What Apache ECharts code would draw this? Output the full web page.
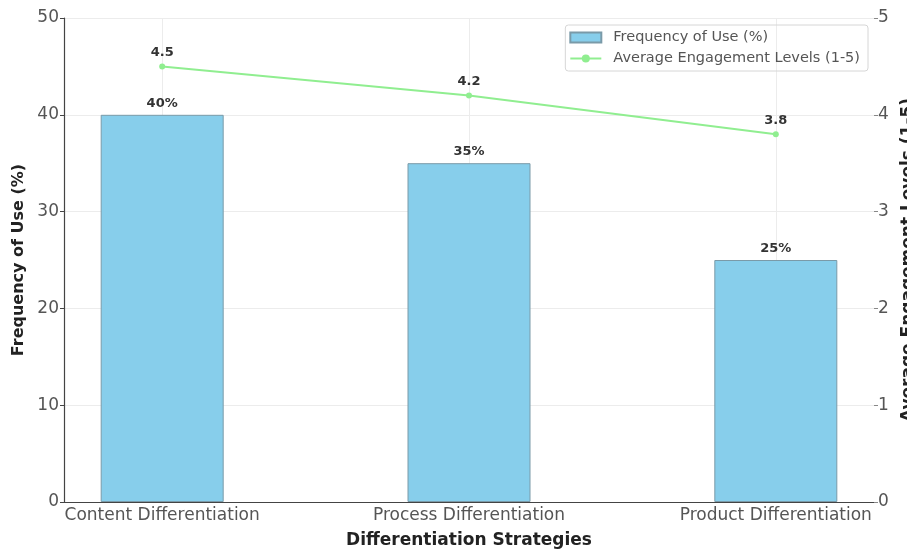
<!DOCTYPE html>
<html><head><meta charset="utf-8">
<script src="https://cdn.jsdelivr.net/npm/echarts@6/dist/echarts.min.js"></script>
<style>html,body{margin:0;padding:0;background:#fff}#c{width:907px;height:549px}</style>
</head><body><div id="c"></div>
<script>
const categories = ['Content Differentiation', 'Process Differentiation', 'Product Differentiation'];
const frequencyOfUse = [40, 35, 25];
const engagementLevels = [4.5, 4.2, 3.8];
const leftTicks = [0, 10, 20, 30, 40, 50];
const rightTicks = [0, 1, 2, 3, 4, 5];

const idx = categories.map((_, i) => i);
const font = 'DejaVu Sans';
const chart = echarts.init(document.getElementById('c'));
chart.setOption({
  animation: false,
  textStyle: { fontFamily: font },
  grid: { left: 64, right: 33, top: 18, bottom: 47, containLabel: false, outerBoundsMode: 'none' },
  legend: {
    orient: 'vertical', right: 39, top: 25,
    itemWidth: 31, itemHeight: 10, itemGap: 6,
    padding: [5, 8, 5, 4],
    borderColor: '#d6d6d6', borderWidth: 1, borderRadius: 3,
    textStyle: { fontFamily: font, fontSize: 14.5, color: '#555', padding: [0, 0, 0, 7] },
    data: [
      { name: 'Frequency of Use (%)', icon: 'rect' },
      { name: 'Average Engagement Levels (1-5)' }
    ]
  },
  xAxis: {
    type: 'value', min: -0.32, max: 2.32,
    name: 'Differentiation Strategies', nameLocation: 'middle', nameGap: 30,
    nameTextStyle: { fontFamily: font, fontSize: 17, fontWeight: 'bold', color: '#222' },
    axisLine: { show: true, onZero: false, lineStyle: { color: '#444', width: 1.2 } },
    axisTick: { show: true, customValues: idx, length: 4, inside: true, lineStyle: { color: '#444' } },
    axisLabel: { customValues: idx, formatter: v => categories[Math.round(v)], fontSize: 17, color: '#555', margin: 5 },
    splitLine: { show: true, lineStyle: { color: '#ececec', width: 1 } }
  },
  yAxis: [
    {
      type: 'value', min: leftTicks[0], max: leftTicks[leftTicks.length - 1], interval: 10,
      name: 'Frequency of Use (%)', nameLocation: 'middle', nameGap: 32, nameRotate: 90,
      nameTextStyle: { fontFamily: font, fontSize: 16, fontWeight: 'bold', color: '#222' },
      axisLine: { show: true, onZero: false, lineStyle: { color: '#444', width: 1.2 } },
      axisTick: { show: true, length: 4, lineStyle: { color: '#444' } },
      axisLabel: { fontSize: 17, color: '#555', margin: 5 },
      splitLine: { show: true, lineStyle: { color: '#ececec', width: 1 } }
    },
    {
      type: 'value', min: rightTicks[0], max: rightTicks[rightTicks.length - 1], interval: 1,
      position: 'right',
      name: 'Average Engagement Levels (1-5)', nameLocation: 'middle', nameGap: 20, nameRotate: 90,
      nameTextStyle: { fontFamily: font, fontSize: 17, fontWeight: 'bold', color: '#222' },
      axisLine: { show: false, onZero: false },
      axisTick: { show: true, length: 4, lineStyle: { color: '#888' } },
      axisLabel: { fontSize: 17, color: '#555', margin: 4 },
      splitLine: { show: false }
    }
  ],
  series: [
    {
      name: 'Frequency of Use (%)', type: 'bar', yAxisIndex: 0,
      barWidth: 123,
      data: frequencyOfUse.map((v, i) => [i, v]),
      itemStyle: { color: '#87CEEB', borderColor: '#7a9aa8', borderWidth: 1 },
      label: { show: true, position: 'top', distance: 5, formatter: p => p.value[1] + '%',
        fontFamily: font, fontSize: 13, fontWeight: 'bold', color: '#333' }
    },
    {
      name: 'Average Engagement Levels (1-5)', type: 'line', yAxisIndex: 1,
      data: engagementLevels.map((v, i) => [i, v]),
      symbol: 'circle', symbolSize: 6,
      lineStyle: { color: '#90EE90', width: 2 },
      itemStyle: { color: '#90EE90' },
      label: { show: true, position: 'top', distance: 4, formatter: p => p.value[1],
        fontFamily: font, fontSize: 13, fontWeight: 'bold', color: '#333' },
      z: 5
    }
  ]
});
</script></body></html>
